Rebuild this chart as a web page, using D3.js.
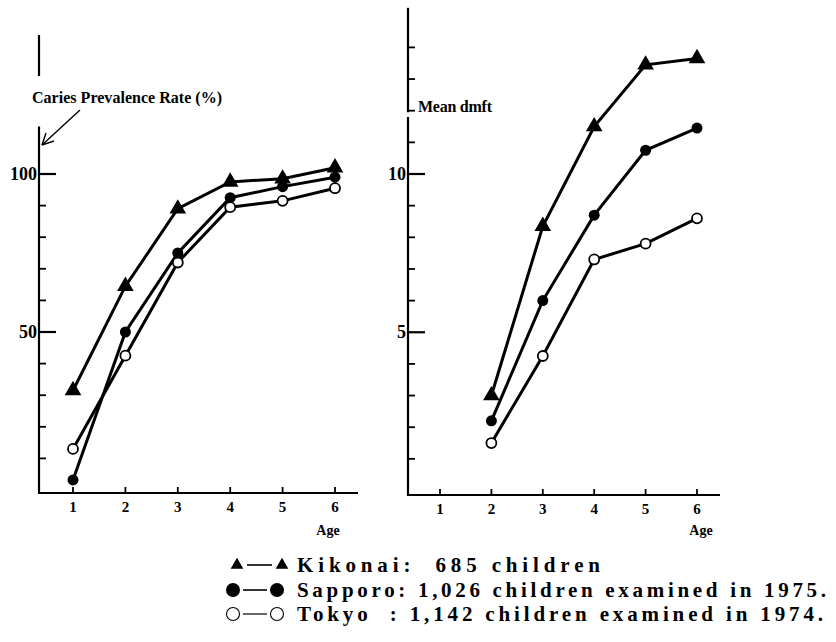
<!DOCTYPE html>
<html>
<head>
<meta charset="utf-8">
<script src="https://cdn.jsdelivr.net/npm/d3@7"></script>
<style>
  body { margin: 0; background: #fff; }
  text { font-family: "Liberation Serif", "Times New Roman", serif; fill: #000; }
</style>
</head>
<body>
<svg id="chart" width="836" height="642"></svg>
<script>
// ages on the x axis
const ages = [1, 2, 3, 4, 5, 6];
const agesDmft = [2, 3, 4, 5, 6];

// caries prevalence rate (%)
const kikonaiRate = [31.5, 64.5, 89, 97.5, 98.5, 102];
const sapporoRate = [3.2, 50, 75, 92.5, 96, 99];
const tokyoRate = [13, 42.5, 72, 89.5, 91.5, 95.5];

// mean dmft
const kikonaiDmft = [3.0, 8.35, 11.5, 13.45, 13.65];
const sapporoDmft = [2.2, 6.0, 8.7, 10.75, 11.45];
const tokyoDmft = [1.5, 4.25, 7.3, 7.8, 8.6];

const rateTicks = [100, 50];
const rateMinor = [10, 20, 30, 40, 60, 70, 80, 90];
const dmftTicks = [10, 5];
const dmftMinor = [1, 2, 3, 4, 6, 7, 8, 9, 11, 12, 13, 14];

const legendItems = [
    { marker: "triangle", text: "Kikonai:  685 children" },
    { marker: "filled", text: "Sapporo: 1,026 children examined in 1975." },
    { marker: "open", text: "Tokyo  : 1,142 children examined in 1974." }
];

const svg = d3.select("#chart");
svg.append("rect").attr("width", 836).attr("height", 642).attr("fill", "#fff");

function drawMarker(g, type, x, y) {
    if (type === "triangle") {
        g.append("path")
            .attr("d", d3.symbol(d3.symbolTriangle, 120)())
            .attr("transform", `translate(${x},${y})`)
            .attr("fill", "#000");
    } else if (type === "filled") {
        g.append("circle").attr("cx", x).attr("cy", y).attr("r", 5.5).attr("fill", "#000");
    } else {
        g.append("circle").attr("cx", x).attr("cy", y).attr("r", 5)
            .attr("fill", "#fff").attr("stroke", "#000").attr("stroke-width", 1.8);
    }
}

function drawPanel(opts) {
    const g = svg.append("g");
    const x = opts.x, y = opts.y;

    // y axis line (with a break)
    opts.axisSegments.forEach(s => {
        g.append("line")
            .attr("x1", opts.axisX).attr("x2", opts.axisX)
            .attr("y1", y(s[0])).attr("y2", y(s[1]))
            .attr("stroke", "#000").attr("stroke-width", 2.2);
    });

    // x axis line
    g.append("line")
        .attr("x1", opts.axisX - 1).attr("x2", opts.xEnd)
        .attr("y1", opts.baseY).attr("y2", opts.baseY)
        .attr("stroke", "#000").attr("stroke-width", 2.2);

    // y ticks
    opts.minor.forEach(v => {
        g.append("line").attr("x1", opts.axisX).attr("x2", opts.axisX + 7)
            .attr("y1", y(v)).attr("y2", y(v)).attr("stroke", "#000").attr("stroke-width", 1.8);
    });
    opts.major.forEach(v => {
        g.append("line").attr("x1", opts.axisX).attr("x2", opts.axisX + 17)
            .attr("y1", y(v)).attr("y2", y(v)).attr("stroke", "#000").attr("stroke-width", 2.2);
        g.append("text")
            .attr("x", opts.axisX - 2).attr("y", y(v) + 6)
            .attr("text-anchor", "end")
            .attr("font-size", 18).attr("font-weight", "bold")
            .text(v);
    });

    // x ticks and labels
    ages.forEach(a => {
        g.append("line").attr("x1", x(a)).attr("x2", x(a))
            .attr("y1", opts.baseY).attr("y2", opts.baseY - 6)
            .attr("stroke", "#000").attr("stroke-width", 1.8);
        g.append("text")
            .attr("x", x(a)).attr("y", opts.baseY + 19)
            .attr("text-anchor", "middle")
            .attr("font-size", 15).attr("font-weight", "bold")
            .text(a);
    });
    g.append("text")
        .attr("x", opts.ageX).attr("y", 535)
        .attr("text-anchor", "middle")
        .attr("font-size", 14).attr("font-weight", "bold")
        .text("Age");

    // series
    const line = d3.line().x(d => x(d.age)).y(d => y(d.v));
    opts.series.forEach(s => {
        const pts = s.values.map((v, i) => ({ age: opts.ages[i], v: v }));
        g.append("path").datum(pts)
            .attr("d", line)
            .attr("fill", "none").attr("stroke", "#000").attr("stroke-width", 3);
        pts.forEach(p => drawMarker(g, s.marker, x(p.age), y(p.v)));
    });
    return g;
}

// left panel: caries prevalence rate
const xLeft = d3.scaleLinear().domain([1, 6]).range([73, 335]);
const yLeft = d3.scaleLinear().domain([0, 100]).range([490, 174]);
const left = drawPanel({
    x: xLeft, y: yLeft, axisX: 39, xEnd: 358, baseY: 493, ageX: 328,
    axisSegments: [[-1, 115]],
    major: rateTicks, minor: rateMinor, ages: ages,
    series: [
        { marker: "triangle", values: kikonaiRate },
        { marker: "filled", values: sapporoRate },
        { marker: "open", values: tokyoRate }
    ]
});
// detached piece of the axis above the break
left.append("line").attr("x1", 39).attr("x2", 39).attr("y1", 35).attr("y2", 76)
    .attr("stroke", "#000").attr("stroke-width", 2.2);
left.append("text")
    .attr("x", 32).attr("y", 103)
    .attr("font-size", 16).attr("font-weight", "bold")
    .attr("textLength", 190)
    .text("Caries Prevalence Rate (%)");
left.append("line").attr("x1", 80).attr("y1", 110).attr("x2", 42).attr("y2", 145)
    .attr("stroke", "#000").attr("stroke-width", 1.4);
left.append("path").attr("d", "M42,145 L46,133 M42,145 L54,141")
    .attr("fill", "none").attr("stroke", "#000").attr("stroke-width", 1.4);

// right panel: mean dmft
const xRight = d3.scaleLinear().domain([1, 6]).range([440, 697]);
const yRight = d3.scaleLinear().domain([0, 10]).range([490.5, 174]);
const right = drawPanel({
    x: xRight, y: yRight, axisX: 408, xEnd: 720, baseY: 495, ageX: 701,
    axisSegments: [[-0.15, 11.8], [11.95, 15.25]],
    major: dmftTicks, minor: dmftMinor, ages: agesDmft,
    series: [
        { marker: "triangle", values: kikonaiDmft },
        { marker: "filled", values: sapporoDmft },
        { marker: "open", values: tokyoDmft }
    ]
});
right.append("text")
    .attr("x", 418).attr("y", 112)
    .attr("font-size", 16).attr("font-weight", "bold")
    .attr("textLength", 74)
    .text("Mean dmft");

// legend
const legendY = [565, 590, 614];
const legendEnd = [600, 826, 823];
const legend = svg.append("g");
legendItems.forEach((item, i) => {
    const ly = legendY[i];
    const x1 = item.marker === "triangle" ? 237 : 233;
    const x2 = item.marker === "triangle" ? 282 : 277;
    legend.append("line").attr("x1", x1 + 10).attr("x2", x2 - 10)
        .attr("y1", ly).attr("y2", ly)
        .attr("stroke", "#000").attr("stroke-width", item.marker === "open" ? 1.2 : 1.6);
    if (item.marker === "triangle") {
        [x1, x2].forEach(mx => legend.append("path")
            .attr("d", d3.symbol(d3.symbolTriangle, 70)())
            .attr("transform", `translate(${mx},${ly})`));
    } else if (item.marker === "filled") {
        [x1, x2].forEach(mx => legend.append("circle")
            .attr("cx", mx).attr("cy", ly).attr("r", 7).attr("fill", "#000"));
    } else {
        [x1, x2].forEach(mx => legend.append("circle")
            .attr("cx", mx).attr("cy", ly).attr("r", 6.5)
            .attr("fill", "#fff").attr("stroke", "#000").attr("stroke-width", 1.1));
    }
    legend.append("text")
        .attr("x", 297).attr("y", ly + 7)
        .attr("font-size", 21).attr("font-weight", "bold")
        .style("white-space", "pre")
        .attr("textLength", legendEnd[i] - 297)
        .attr("lengthAdjust", "spacing")
        .text(item.text);
});
</script>
</body>
</html>
